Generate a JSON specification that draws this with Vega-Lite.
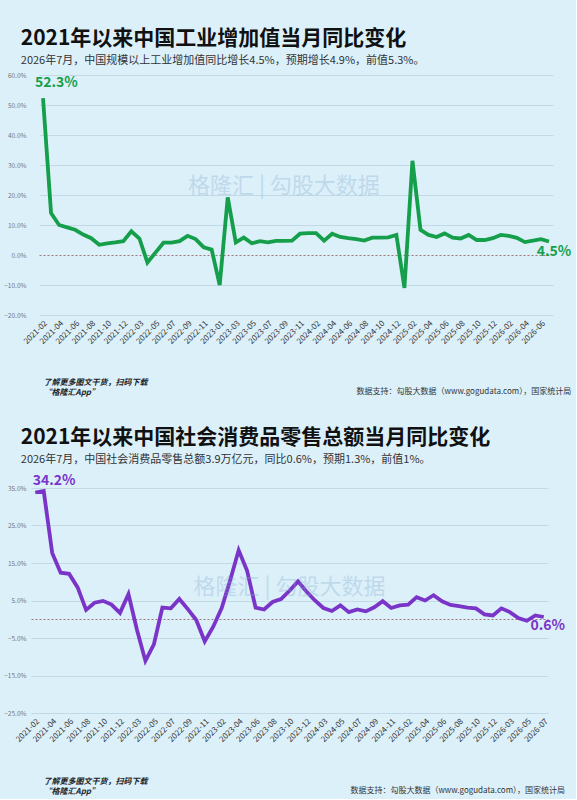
{
  "$schema": "https://vega.github.io/schema/vega-lite/v6.json",
  "background": "#dcf0fa",
  "padding": {"left": 3, "top": 28, "right": 4, "bottom": 4},
  "spacing": 30,
  "config": {
    "font": "Noto Sans CJK SC",
    "view": {"stroke": null},
    "axis": {"labelFont": "Noto Sans CJK SC", "titleFont": "Noto Sans CJK SC"}
  },
  "datasets": {
    "industry": [
      {"month": "2021-02", "value": 52.3}, {"month": "2021-03", "value": 14.0}, {"month": "2021-04", "value": 10.0},
      {"month": "2021-05", "value": 9.2}, {"month": "2021-06", "value": 8.4}, {"month": "2021-07", "value": 6.8},
      {"month": "2021-08", "value": 5.6}, {"month": "2021-09", "value": 3.4}, {"month": "2021-10", "value": 3.9},
      {"month": "2021-11", "value": 4.2}, {"month": "2021-12", "value": 4.6}, {"month": "2022-02", "value": 7.9},
      {"month": "2022-03", "value": 5.5}, {"month": "2022-04", "value": -2.5}, {"month": "2022-05", "value": 0.8},
      {"month": "2022-06", "value": 4.1}, {"month": "2022-07", "value": 4.1}, {"month": "2022-08", "value": 4.6},
      {"month": "2022-09", "value": 6.4}, {"month": "2022-10", "value": 5.3}, {"month": "2022-11", "value": 2.6},
      {"month": "2022-12", "value": 1.8}, {"month": "2023-01", "value": -10.0}, {"month": "2023-02", "value": 19.2},
      {"month": "2023-03", "value": 4.2}, {"month": "2023-04", "value": 5.8}, {"month": "2023-05", "value": 3.9},
      {"month": "2023-06", "value": 4.6}, {"month": "2023-07", "value": 4.2}, {"month": "2023-08", "value": 4.7},
      {"month": "2023-09", "value": 4.7}, {"month": "2023-10", "value": 4.8}, {"month": "2023-11", "value": 7.1},
      {"month": "2023-12", "value": 7.3}, {"month": "2024-02", "value": 7.3}, {"month": "2024-03", "value": 4.8},
      {"month": "2024-04", "value": 7.1}, {"month": "2024-05", "value": 6.0}, {"month": "2024-06", "value": 5.6},
      {"month": "2024-07", "value": 5.3}, {"month": "2024-08", "value": 4.8}, {"month": "2024-09", "value": 5.8},
      {"month": "2024-10", "value": 5.8}, {"month": "2024-11", "value": 5.9}, {"month": "2024-12", "value": 6.7},
      {"month": "2025-01", "value": -11.0}, {"month": "2025-02", "value": 31.4}, {"month": "2025-03", "value": 8.4},
      {"month": "2025-04", "value": 6.7}, {"month": "2025-05", "value": 6.0}, {"month": "2025-06", "value": 7.2},
      {"month": "2025-07", "value": 5.8}, {"month": "2025-08", "value": 5.5}, {"month": "2025-09", "value": 6.7},
      {"month": "2025-10", "value": 5.0}, {"month": "2025-11", "value": 5.0}, {"month": "2025-12", "value": 5.6},
      {"month": "2026-01", "value": 6.7}, {"month": "2026-02", "value": 6.4}, {"month": "2026-03", "value": 5.7},
      {"month": "2026-04", "value": 4.3}, {"month": "2026-05", "value": 4.8}, {"month": "2026-06", "value": 5.3},
      {"month": "2026-07", "value": 4.5}
    ],
    "retail": [
      {"month": "2021-02", "value": 33.8}, {"month": "2021-03", "value": 34.2}, {"month": "2021-04", "value": 17.7},
      {"month": "2021-05", "value": 12.4}, {"month": "2021-06", "value": 12.1}, {"month": "2021-07", "value": 8.5},
      {"month": "2021-08", "value": 2.5}, {"month": "2021-09", "value": 4.4}, {"month": "2021-10", "value": 4.9},
      {"month": "2021-11", "value": 3.9}, {"month": "2021-12", "value": 1.7}, {"month": "2022-02", "value": 6.7},
      {"month": "2022-03", "value": -2.8}, {"month": "2022-04", "value": -11.1}, {"month": "2022-05", "value": -6.7},
      {"month": "2022-06", "value": 3.1}, {"month": "2022-07", "value": 2.9}, {"month": "2022-08", "value": 5.4},
      {"month": "2022-09", "value": 2.7}, {"month": "2022-10", "value": -0.2}, {"month": "2022-11", "value": -5.9},
      {"month": "2022-12", "value": -2.0}, {"month": "2023-02", "value": 3.0}, {"month": "2023-03", "value": 10.4},
      {"month": "2023-04", "value": 18.4}, {"month": "2023-05", "value": 12.9}, {"month": "2023-06", "value": 3.1},
      {"month": "2023-07", "value": 2.6}, {"month": "2023-08", "value": 4.6}, {"month": "2023-09", "value": 5.4},
      {"month": "2023-10", "value": 7.6}, {"month": "2023-11", "value": 10.1}, {"month": "2023-12", "value": 7.4},
      {"month": "2024-02", "value": 5.0}, {"month": "2024-03", "value": 3.0}, {"month": "2024-04", "value": 2.2},
      {"month": "2024-05", "value": 3.7}, {"month": "2024-06", "value": 1.9}, {"month": "2024-07", "value": 2.6},
      {"month": "2024-08", "value": 2.1}, {"month": "2024-09", "value": 3.2}, {"month": "2024-10", "value": 4.8},
      {"month": "2024-11", "value": 3.0}, {"month": "2024-12", "value": 3.7}, {"month": "2025-02", "value": 3.9},
      {"month": "2025-03", "value": 5.9}, {"month": "2025-04", "value": 5.0}, {"month": "2025-05", "value": 6.4},
      {"month": "2025-06", "value": 4.8}, {"month": "2025-07", "value": 3.8}, {"month": "2025-08", "value": 3.5},
      {"month": "2025-09", "value": 3.1}, {"month": "2025-10", "value": 2.9}, {"month": "2025-11", "value": 1.3},
      {"month": "2025-12", "value": 1.0}, {"month": "2026-02", "value": 2.9}, {"month": "2026-03", "value": 1.9},
      {"month": "2026-04", "value": 0.3}, {"month": "2026-05", "value": -0.4}, {"month": "2026-06", "value": 1.0},
      {"month": "2026-07", "value": 0.6}
    ]
  },
  "vconcat": [
    {
      "title": {
        "text": "2021年以来中国工业增加值当月同比变化",
        "subtitle": "2026年7月，中国规模以上工业增加值同比增长4.5%，预期增长4.9%，前值5.3%。",
        "anchor": "start",
        "frame": "bounds",
        "dx": 17,
        "fontSize": 21,
        "fontWeight": "bold",
        "color": "#111111",
        "subtitleFontSize": 11,
        "subtitleColor": "#333333",
        "subtitlePadding": 6,
        "offset": 6
      },
      "vconcat": [
        {
          "width": 523,
          "height": 240,
          "title": {
            "text": "数据支持：勾股大数据（www.gogudata.com），国家统计局",
            "orient": "bottom",
            "anchor": "end",
            "fontSize": 8,
            "fontWeight": "normal",
            "color": "#333333",
            "offset": -8
          },
          "data": {"name": "industry"},
          "encoding": {
            "x": {
              "field": "month", "type": "ordinal", "sort": null,
              "scale": {"type": "point", "range": [8, 522]},
              "axis": {
                "values": ["2021-02","2021-04","2021-06","2021-08","2021-10","2021-12","2022-03","2022-05","2022-07","2022-09","2022-11","2023-01","2023-03","2023-05","2023-07","2023-09","2023-11","2024-02","2024-04","2024-06","2024-08","2024-10","2024-12","2025-02","2025-04","2025-06","2025-08","2025-10","2025-12","2026-02","2026-04","2026-06"],
                "labelAngle": -45, "labelFontSize": 8, "labelColor": "#333333",
                "ticks": false, "domain": false, "grid": false, "labelPadding": 4,
                "title": ["了解更多图文干货，扫码下载", "“格隆汇App”"],
                "titleFontSize": 8, "titleFontWeight": "bold", "titleFontStyle": "italic",
                "titleColor": "#222222", "titleAnchor": "start", "titleAlign": "left",
                "titleBaseline": "top", "titleX": 12, "titleY": 63
              }
            },
            "y": {
              "field": "value", "type": "quantitative",
              "scale": {"domain": [-20, 60], "nice": false},
              "axis": {
                "values": [-20, -10, 0, 10, 20, 30, 40, 50, 60],
                "labelExpr": "format(datum.value, '.1f') + '%'",
                "labelFontSize": 6.5, "labelColor": "#777777", "labelPadding": 5,
                "labelOverlap": false,
                "ticks": false, "domain": false,
                "gridColor": {"condition": {"test": "datum.value === 0", "value": "#a07a7a"}, "value": "#c3d9e6"},
                "gridDash": {"condition": {"test": "datum.value === 0", "value": [2, 2]}, "value": []},
                "gridWidth": 1, "title": null
              }
            }
          },
          "layer": [
            {
              "mark": {"type": "line", "color": "#169f4b", "strokeWidth": 3.8, "strokeJoin": "miter"}
            },
            {
              "transform": [{"filter": "datum.month == '2023-09'"}],
              "mark": {"type": "text", "text": "格隆汇  |  勾股大数据", "color": "#7fa7c9", "opacity": 0.3, "fontSize": 22, "align": "center", "baseline": "middle", "dy": -55}
            },
            {
              "transform": [
                {"filter": "datum.month == '2021-02'"},
                {"calculate": "format(datum.value, '.1f') + '%'", "as": "label"}
              ],
              "mark": {"type": "text", "color": "#169f4b", "fontWeight": "bold", "fontSize": 14, "align": "left", "baseline": "bottom", "dx": -8, "dy": -8},
              "encoding": {"text": {"field": "label"}}
            },
            {
              "transform": [
                {"filter": "datum.month == '2026-07'"},
                {"calculate": "format(datum.value, '.1f') + '%'", "as": "label"}
              ],
              "mark": {"type": "text", "color": "#169f4b", "fontWeight": "bold", "fontSize": 14, "align": "center", "baseline": "top", "dx": 5, "dy": 3},
              "encoding": {"text": {"field": "label"}}
            }
          ]
        }
      ]
    },
    {
      "title": {
        "text": "2021年以来中国社会消费品零售总额当月同比变化",
        "subtitle": "2026年7月，中国社会消费品零售总额3.9万亿元，同比0.6%，预期1.3%，前值1%。",
        "anchor": "start",
        "frame": "bounds",
        "dx": 17,
        "fontSize": 21,
        "fontWeight": "bold",
        "color": "#111111",
        "subtitleFontSize": 11,
        "subtitleColor": "#333333",
        "subtitlePadding": 6,
        "offset": 9
      },
      "vconcat": [
        {
          "width": 523,
          "height": 225,
          "title": {
            "text": "数据支持：勾股大数据（www.gogudata.com），国家统计局",
            "orient": "bottom",
            "anchor": "end",
            "fontSize": 8,
            "fontWeight": "normal",
            "color": "#333333",
            "offset": -8
          },
          "data": {"name": "retail"},
          "encoding": {
            "x": {
              "field": "month", "type": "ordinal", "sort": null,
              "scale": {"type": "point", "range": [0, 517]},
              "axis": {
                "values": ["2021-02","2021-04","2021-06","2021-08","2021-10","2021-12","2022-03","2022-05","2022-07","2022-09","2022-11","2023-02","2023-04","2023-06","2023-08","2023-10","2023-12","2024-03","2024-05","2024-07","2024-09","2024-11","2025-02","2025-04","2025-06","2025-08","2025-10","2025-12","2026-03","2026-05","2026-07"],
                "labelAngle": -45, "labelFontSize": 8, "labelColor": "#333333",
                "ticks": false, "domain": false, "grid": false, "labelPadding": 4,
                "title": ["了解更多图文干货，扫码下载", "“格隆汇App”"],
                "titleFontSize": 8, "titleFontWeight": "bold", "titleFontStyle": "italic",
                "titleColor": "#222222", "titleAnchor": "start", "titleAlign": "left",
                "titleBaseline": "top", "titleX": 12, "titleY": 64
              }
            },
            "y": {
              "field": "value", "type": "quantitative",
              "scale": {"domain": [-25, 35], "nice": false},
              "axis": {
                "values": [-25, -15, -5, 0, 5, 15, 25, 35],
                "labelExpr": "datum.value === 0 ? '' : format(datum.value, '.1f') + '%'",
                "labelFontSize": 6.5, "labelColor": "#777777", "labelPadding": 5,
                "labelOverlap": false,
                "ticks": false, "domain": false,
                "gridColor": {"condition": {"test": "datum.value === 0", "value": "#a07a7a"}, "value": "#c3d9e6"},
                "gridDash": {"condition": {"test": "datum.value === 0", "value": [2, 2]}, "value": []},
                "gridWidth": 1, "title": null
              }
            }
          },
          "layer": [
            {
              "mark": {"type": "line", "color": "#7a35c8", "strokeWidth": 3.8, "strokeJoin": "miter"}
            },
            {
              "transform": [{"filter": "datum.month == '2023-10'"}],
              "mark": {"type": "text", "text": "格隆汇  |  勾股大数据", "color": "#7fa7c9", "opacity": 0.3, "fontSize": 22, "align": "center", "baseline": "middle", "dy": -4}
            },
            {
              "transform": [
                {"filter": "datum.month == '2021-03'"},
                {"calculate": "format(datum.value, '.1f') + '%'", "as": "label"}
              ],
              "mark": {"type": "text", "color": "#7a35c8", "fontWeight": "bold", "fontSize": 14, "align": "left", "baseline": "bottom", "dx": -11, "dy": -3},
              "encoding": {"text": {"field": "label"}}
            },
            {
              "transform": [
                {"filter": "datum.month == '2026-07'"},
                {"calculate": "format(datum.value, '.1f') + '%'", "as": "label"}
              ],
              "mark": {"type": "text", "color": "#7a35c8", "fontWeight": "bold", "fontSize": 14, "align": "center", "baseline": "top", "dx": 4, "dy": 2},
              "encoding": {"text": {"field": "label"}}
            }
          ]
        }
      ]
    }
  ]
}
